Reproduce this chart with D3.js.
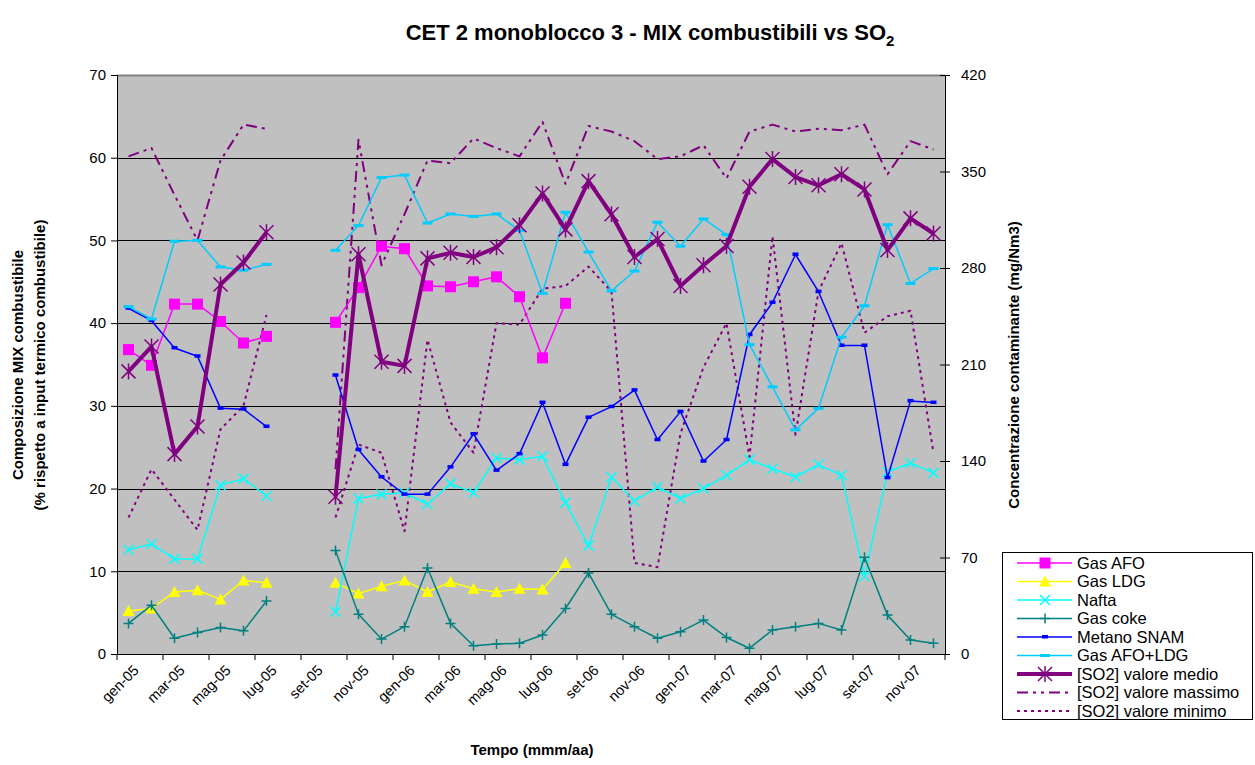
<!DOCTYPE html>
<html>
<head>
<meta charset="utf-8">
<script src="https://cdn.jsdelivr.net/npm/d3@7"></script>
<style>
  body { margin: 0; background: #fff; }
  text { font-family: Arial, "Liberation Sans", sans-serif; }
</style>
</head>
<body>
<div id="svg"></div>
<script>
var width = 1255, height = 765;

// months gen-05 .. dic-07
var monthNames = ["gen", "feb", "mar", "apr", "mag", "giu", "lug", "ago", "set", "ott", "nov", "dic"];
var years = ["05", "06", "07"];
var months = [];
years.forEach(function(y) { monthNames.forEach(function(m) { months.push(m + "-" + y); }); });

var N = null;
var gasAFO   = [36.8, 34.9, 42.3, 42.3, 40.2, 37.6, 38.4, N, N, 40.1, 44.3, 49.3, 49.0, 44.5, 44.4, 45.0, 45.6, 43.2, 35.8, 42.4, N, N, N, N, N, N, N, N, N, N, N, N, N, N, N, N];
var gasLDG   = [5.2, 5.5, 7.5, 7.7, 6.6, 8.9, 8.6, N, N, 8.6, 7.3, 8.2, 8.9, 7.5, 8.7, 7.9, 7.5, 7.9, 7.8, 11.0, N, N, N, N, N, N, N, N, N, N, N, N, N, N, N, N];
var nafta    = [12.6, 13.3, 11.5, 11.5, 20.4, 21.2, 19.1, N, N, 5.1, 18.8, 19.3, 19.5, 18.1, 20.6, 19.5, 23.7, 23.5, 23.9, 18.3, 13.1, 21.4, 18.5, 20.2, 18.8, 20.0, 21.6, 23.5, 22.4, 21.4, 22.9, 21.6, 9.4, 22.0, 23.1, 21.9];
var gasCoke  = [3.7, 5.9, 1.9, 2.6, 3.2, 2.8, 6.4, N, N, 12.5, 4.8, 1.8, 3.3, 10.4, 3.7, 1.0, 1.2, 1.3, 2.3, 5.5, 9.8, 4.8, 3.3, 1.9, 2.7, 4.1, 2.0, 0.7, 2.9, 3.3, 3.7, 2.9, 11.7, 4.7, 1.7, 1.3];
var metano   = [41.8, 40.3, 37.0, 36.0, 29.7, 29.6, 27.5, N, N, 33.7, 24.7, 21.4, 19.3, 19.3, 22.6, 26.6, 22.2, 24.2, 30.4, 22.9, 28.6, 29.9, 31.9, 25.9, 29.3, 23.3, 25.9, 38.6, 42.5, 48.3, 43.8, 37.3, 37.3, 21.3, 30.6, 30.4];
var afoLdg   = [42.0, 40.5, 49.9, 50.0, 46.8, 46.4, 47.1, N, N, 48.8, 51.8, 57.6, 57.9, 52.1, 53.2, 52.9, 53.2, 51.2, 43.6, 53.4, 48.6, 43.9, 46.3, 52.2, 49.3, 52.6, 50.7, 37.4, 32.3, 27.1, 29.7, 38.3, 42.1, 51.9, 44.8, 46.6];
// SO2 in mg/Nm3 (right axis)
var so2Medio = [205, 223, 145, 165, 268, 284, 306, N, N, 114, 290, 212, 209, 287, 291, 288, 295, 311, 334, 308, 343, 319, 288, 301, 267, 282, 296, 339, 359, 346, 340, 348, 337, 293, 316, 305];
var so2Max   = [361, 367, 333, 300, 358, 384, 381, N, N, 134, 373, 282, 319, 358, 356, 374, 367, 361, 386, 341, 383, 379, 372, 359, 361, 369, 345, 379, 384, 379, 381, 380, 384, 348, 372, 366];
var so2Min   = [99, 134, 112, 90, 163, 180, 246, N, N, 99, 152, 146, 89, 228, 168, 146, 240, 239, 265, 267, 281, 263, 66, 63, 160, 208, 240, 143, 303, 159, 263, 298, 233, 245, 249, 146];

var leftTicks = [0, 10, 20, 30, 40, 50, 60, 70];
var rightTicks = [0, 70, 140, 210, 280, 350, 420];

var pLeft = 117, pRight = 945, pTop = 75, pBottom = 654;

var svg = d3.select('#svg').append('svg')
    .attr('width', width)
    .attr('height', height);

var x = d3.scaleBand().domain(months).range([pLeft, pRight]);
var yL = d3.scaleLinear().domain([0, 70]).range([pBottom, pTop]);
var yR = d3.scaleLinear().domain([0, 420]).range([pBottom, pTop]);
function cx(i) { return x(months[i]) + x.bandwidth() / 2; }

// plot area
svg.append("rect").attr("x", pLeft).attr("y", pTop).attr("width", pRight - pLeft).attr("height", pBottom - pTop)
    .attr("fill", "#C0C0C0");
svg.append("line").attr("x1", pLeft).attr("x2", pRight).attr("y1", pTop + 0.5).attr("y2", pTop + 0.5)
    .attr("stroke", "#808080").attr("stroke-width", 2);

// gridlines
svg.append("g").selectAll("line").data(leftTicks.slice(1, -1)).enter().append("line")
    .attr("x1", pLeft).attr("x2", pRight)
    .attr("y1", function(d) { return Math.round(yL(d)) + 0.5; })
    .attr("y2", function(d) { return Math.round(yL(d)) + 0.5; })
    .attr("stroke", "#000").attr("stroke-width", 1);

// left axis
var gL = svg.append("g").attr("transform", "translate(" + pLeft + ",0)")
    .call(d3.axisLeft(yL).tickValues(leftTicks).tickSize(6).tickPadding(5));
// right axis
var gR = svg.append("g").attr("transform", "translate(" + pRight + ",0)")
    .call(d3.axisRight(yR).tickValues(rightTicks).tickSize(5).tickPadding(11));
gR.selectAll(".tick line").attr("x1", -5);
[gL, gR].forEach(function(g) {
    g.select(".domain").attr("stroke", "#000");
    g.selectAll("text").attr("font-size", 15).attr("fill", "#000")
        .style("font-family", "Arial, 'Liberation Sans', sans-serif");
});

// x axis
svg.append("line").attr("x1", pLeft).attr("x2", pRight).attr("y1", pBottom + 0.5).attr("y2", pBottom + 0.5)
    .attr("stroke", "#000");
var tickIdx = d3.range(0, 37, 2);
svg.append("g").selectAll("line").data(tickIdx).enter().append("line")
    .attr("x1", function(i) { return pLeft + i * x.bandwidth(); })
    .attr("x2", function(i) { return pLeft + i * x.bandwidth(); })
    .attr("y1", pBottom).attr("y2", pBottom + 6).attr("stroke", "#000");
svg.append("g").selectAll("text").data(months.filter(function(d, i) { return i % 2 === 0; })).enter().append("text")
    .attr("transform", function(d) { return "translate(" + (x(d) + x.bandwidth() / 2 + 4) + "," + (pBottom + 10) + ") rotate(-45)"; })
    .attr("text-anchor", "end").attr("dy", "0.7em").attr("font-size", 14.5)
    .text(function(d) { return d; });

// series
var series = [
    {name: "Gas AFO", data: gasAFO, y: yL, color: "#FF00FF", w: 1.5, marker: "square"},
    {name: "Gas LDG", data: gasLDG, y: yL, color: "#FFFF00", w: 1.5, marker: "triangle"},
    {name: "Nafta", data: nafta, y: yL, color: "#00FFFF", w: 1.5, marker: "x"},
    {name: "Gas coke", data: gasCoke, y: yL, color: "#008080", w: 1.5, marker: "plus"},
    {name: "Metano SNAM", data: metano, y: yL, color: "#0000FF", w: 1.5, marker: "dash"},
    {name: "Gas AFO+LDG", data: afoLdg, y: yL, color: "#00CCFF", w: 1.5, marker: "bigdash"},
    {name: "[SO2] valore medio", data: so2Medio, y: yR, color: "#800080", w: 4, marker: "star"},
    {name: "[SO2] valore massimo", data: so2Max, y: yR, color: "#800080", w: 2, dash: "11,5,3,5,3,5", marker: null},
    {name: "[SO2] valore minimo", data: so2Min, y: yR, color: "#800080", w: 2, dash: "3,4", marker: null}
];

function drawMarker(g, type, px, py, color) {
    if (type === "square") {
        g.append("rect").attr("x", px - 5.5).attr("y", py - 5.5).attr("width", 11).attr("height", 11).attr("fill", color);
    } else if (type === "triangle") {
        g.append("path").attr("d", "M" + px + "," + (py - 6) + "L" + (px + 6) + "," + (py + 5) + "L" + (px - 6) + "," + (py + 5) + "Z").attr("fill", color);
    } else if (type === "x") {
        g.append("path").attr("d", "M" + (px - 5) + "," + (py - 5) + "L" + (px + 5) + "," + (py + 5) + "M" + (px - 5) + "," + (py + 5) + "L" + (px + 5) + "," + (py - 5))
            .attr("stroke", color).attr("stroke-width", 1.5);
    } else if (type === "plus") {
        g.append("path").attr("d", "M" + (px - 5) + "," + py + "L" + (px + 5) + "," + py + "M" + px + "," + (py - 5) + "L" + px + "," + (py + 5))
            .attr("stroke", color).attr("stroke-width", 1.5);
    } else if (type === "dash") {
        g.append("rect").attr("x", px - 3).attr("y", py - 2).attr("width", 6).attr("height", 3.5).attr("fill", color);
    } else if (type === "bigdash") {
        g.append("rect").attr("x", px - 5).attr("y", py - 1.5).attr("width", 10).attr("height", 3).attr("fill", color);
    } else if (type === "star") {
        g.append("path").attr("d", "M" + (px - 7) + "," + (py - 7) + "L" + (px + 7) + "," + (py + 7) + "M" + (px - 7) + "," + (py + 7) + "L" + (px + 7) + "," + (py - 7) + "M" + px + "," + (py - 8) + "L" + px + "," + (py + 8))
            .attr("stroke", color).attr("stroke-width", 1.5);
    }
}

var order = [8, 7, 0, 1, 2, 3, 4, 5, 6];
order.forEach(function(k) {
    var s = series[k];
    var g = svg.append("g");
    var line = d3.line()
        .defined(function(d) { return d != null; })
        .x(function(d, i) { return cx(i); })
        .y(function(d) { return s.y(d); });
    g.append("path").attr("d", line(s.data)).attr("fill", "none")
        .attr("stroke", s.color).attr("stroke-width", s.w)
        .attr("stroke-dasharray", s.dash || null).attr("stroke-linejoin", "round");
    if (s.marker) {
        s.data.forEach(function(d, i) { if (d != null) drawMarker(g, s.marker, cx(i), s.y(d), s.color); });
    }
});

// right axis line above
svg.append("line").attr("x1", pRight + 0.5).attr("x2", pRight + 0.5).attr("y1", pTop).attr("y2", pBottom).attr("stroke", "#000");

// title
var title = svg.append("text").attr("x", 650).attr("y", 40).attr("text-anchor", "middle")
    .attr("font-size", 22).attr("font-weight", "bold");
title.append("tspan").text("CET 2 monoblocco 3 - MIX combustibili vs SO");
title.append("tspan").attr("dy", 6).attr("font-size", 15).text("2");

// axis titles
svg.append("text").attr("transform", "translate(23,365) rotate(-90)").attr("text-anchor", "middle")
    .attr("font-size", 15).attr("font-weight", "bold").text("Composizione MIX combustibile");
svg.append("text").attr("transform", "translate(45,365) rotate(-90)").attr("text-anchor", "middle")
    .attr("font-size", 15).attr("font-weight", "bold").text("(% rispetto a input termico combustibile)");
svg.append("text").attr("transform", "translate(1019,365) rotate(-90)").attr("text-anchor", "middle")
    .attr("font-size", 15).attr("font-weight", "bold").text("Concentrazione contaminante (mg/Nm3)");
svg.append("text").attr("x", 532).attr("y", 755).attr("text-anchor", "middle")
    .attr("font-size", 15).attr("font-weight", "bold").text("Tempo (mmm/aa)");

// legend
var lg = svg.append("g");
lg.append("rect").attr("x", 1002.5).attr("y", 552.5).attr("width", 250).attr("height", 167)
    .attr("fill", "#fff").attr("stroke", "#000");
series.forEach(function(s, k) {
    var ly = 563 + k * 18.5;
    lg.append("line").attr("x1", 1017).attr("x2", 1072).attr("y1", ly).attr("y2", ly)
        .attr("stroke", s.color).attr("stroke-width", s.w).attr("stroke-dasharray", s.dash || null);
    if (s.marker) drawMarker(lg, s.marker, 1045, ly, s.color);
    lg.append("text").attr("x", 1077).attr("y", ly + 5.5).attr("font-size", 16.5).text(s.name);
});
</script>
</body>
</html>
